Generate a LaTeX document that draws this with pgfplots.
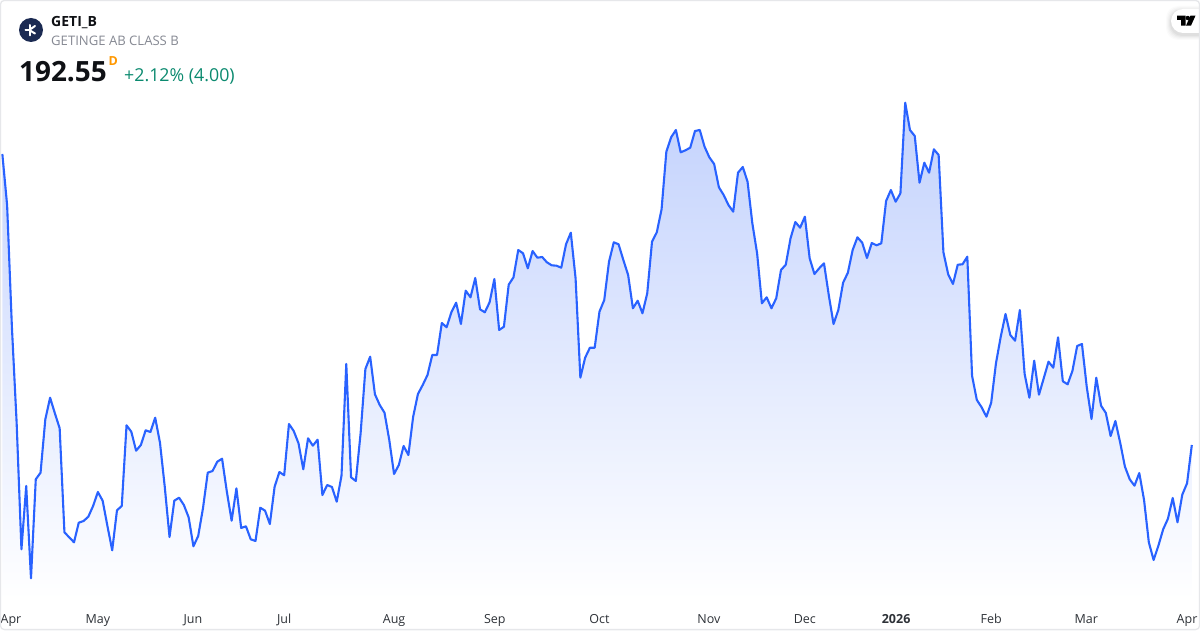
\documentclass[border=0pt]{standalone}
\usepackage{fontspec}
\setmainfont{Open Sans}
\usepackage{pgfplots}
\usepackage{pgfplotstable}
\pgfplotsset{compat=1.18}
\definecolor{tvblue}{HTML}{2962FF}
\definecolor{tvgreen}{HTML}{0B8A6F}
\definecolor{tvgray}{HTML}{868993}
\definecolor{tvtext}{HTML}{0F1115}
\definecolor{tvlabel}{HTML}{2E3238}
\definecolor{tvborder}{HTML}{E6E7EA}
\definecolor{tvnavy}{HTML}{1B2A52}
\definecolor{tvorange}{HTML}{FF9800}
\definecolor{areatop}{HTML}{C3D2FD}
% vertical position of the close, one value per trading day
\pgfplotstableread[row sep=\\]{pos\\
154.0\\205.0\\326.7\\423.3\\549.3\\486.0\\578.3\\479.3\\472.7\\419.3\\397.7\\413.3\\428.3\\532.3\\537.3\\542.3\\522.7\\521.0\\516.7\\506.0\\492.0\\500.7\\526.0\\550.3\\510.3\\506.0\\425.3\\431.7\\450.7\\445.0\\430.3\\432.0\\417.7\\442.7\\486.7\\537.0\\500.7\\497.7\\505.0\\517.3\\546.3\\536.0\\508.3\\472.7\\471.0\\461.7\\458.7\\491.7\\520.7\\488.3\\528.0\\526.3\\539.3\\541.0\\507.7\\510.7\\524.0\\486.7\\472.0\\475.3\\424.0\\431.0\\443.3\\
469.3\\438.3\\445.7\\439.7\\495.0\\485.0\\487.0\\501.7\\475.7\\364.0\\477.3\\481.0\\433.3\\369.0\\356.7\\394.3\\405.0\\412.7\\440.0\\474.0\\465.0\\446.0\\455.0\\416.7\\394.0\\385.0\\375.0\\355.0\\355.0\\323.0\\327.3\\312.3\\302.7\\324.0\\290.7\\297.3\\278.0\\309.3\\312.3\\302.3\\279.0\\330.0\\326.7\\284.7\\277.3\\250.0\\253.3\\268.3\\251.0\\257.7\\257.0\\262.3\\265.3\\265.7\\267.7\\244.3\\232.7\\278.3\\377.7\\357.7\\347.7\\347.7\\311.7\\
300.0\\261.7\\242.3\\244.3\\260.0\\275.0\\308.3\\300.7\\313.3\\293.3\\241.7\\232.3\\209.3\\151.7\\137.3\\130.0\\152.3\\150.3\\147.7\\131.0\\130.0\\146.7\\157.3\\164.0\\187.3\\195.0\\205.0\\211.7\\172.7\\167.0\\181.7\\223.3\\253.3\\303.3\\297.3\\308.3\\298.3\\270.0\\264.7\\238.3\\222.0\\227.7\\216.7\\258.3\\274.0\\268.3\\263.3\\295.0\\324.0\\310.0\\282.7\\272.7\\250.0\\237.3\\242.7\\258.0\\243.0\\245.3\\243.3\\201.0\\190.0\\201.7\\193.3\\
102.7\\130.0\\136.0\\182.7\\162.7\\172.7\\149.3\\155.0\\252.3\\274.3\\284.0\\264.7\\264.3\\256.7\\
376.0\\400.0\\407.3\\416.7\\402.7\\363.3\\336.7\\314.0\\335.0\\340.7\\310.0\\374.0\\397.7\\360.7\\394.7\\378.3\\361.7\\367.7\\337.3\\381.3\\384.3\\371.0\\346.0\\344.0\\386.7\\419.0\\377.7\\405.7\\413.0\\436.0\\421.0\\442.7\\466.7\\479.3\\485.7\\473.0\\500.0\\542.3\\560.0\\545.7\\529.3\\518.7\\498.0\\522.3\\494.7\\483.3\\445.0\\
}\closes
\begin{document}
\begin{tikzpicture}[x=1pt,y=1pt]
\clip (0,0) rectangle (1200,630);
\fill[white] (0,0) rectangle (1200,630);
\begin{axis}[
  at={(0,0)},anchor=south west,
  scale only axis,width=1200pt,height=630pt,
  xmin=-0.488,xmax=250.71,ymin=-30,ymax=600,
  axis line style={draw=none},
  major tick length=0pt,
  ytick=\empty,
  xtick={1.8,20,39.9,59,82,103.1,125,147.9,168,187.1,207,226.9,248},
  xticklabels={Apr,May,Jun,Jul,Aug,Sep,Oct,Nov,Dec,\textbf{2026},Feb,Mar,Apr},
  xticklabel style={font=\fontsize{12.5}{14}\selectfont,text=tvlabel,anchor=base,yshift=7pt},
  clip=true,
]
\addplot[draw=none,top color=areatop,bottom color=white,forget plot]
  table[x expr=\coordindex,y index=0,y expr=600-\thisrow{pos}]{\closes} \closedcycle;
\addplot[color=tvblue,line width=2.1pt,line join=round,mark=none]
  table[x expr=\coordindex,y index=0,y expr=600-\thisrow{pos}]{\closes};
\end{axis}
\begin{scope}[shift={(0,630)},x=1pt,y=-1pt]
% logo
\fill[tvnavy] (31,30) circle (12);
\begin{scope}[white,line width=2pt,line cap=round]
\draw (29.5,30)--(29.5,25);\draw (29.5,30)--(29.5,35.5);
\draw (29.5,30)--(25.5,30);\draw (30,29.5)--(35,26);\draw (30,30.5)--(35,33.5);
\end{scope}
\node[anchor=base west,inner sep=0,text=tvtext,font=\fontsize{14}{16}\selectfont\bfseries] at (51,27) {GETI\_B};
\node[anchor=base west,inner sep=0,text=tvgray,font=\fontsize{13.1}{15}\selectfont] at (51,46) {GETINGE AB CLASS B};
\node[anchor=base west,inner sep=0,text=tvtext,font=\fontsize{27.9}{30}\selectfont\bfseries] at (19,82) {192.55};
\node[anchor=base west,inner sep=0,text=tvorange,font=\fontsize{12.5}{14}\selectfont\bfseries] at (108.5,66) {D};
\node[anchor=base west,inner sep=0,text=tvgreen,font=\fontsize{17.8}{20}\selectfont] at (124,82) {+2.12\% (4.00)};
% badge
\foreach \o/\a in {5/0.015,4/0.02,3/0.025,2/0.03,1/0.035}{
  \fill[black,opacity=\a,rounded corners=12pt] (1171-\o,9-\o+2) rectangle (1215,33+\o+2);}
\fill[white,rounded corners=12pt] (1171,9) rectangle (1215,33);
\fill[black] (1177,15.6) -- (1185.5,15.6) -- (1185.5,25.6) -- (1181,25.6) -- (1181,20) -- (1177,20) -- cycle;
\fill[black] (1187.8,18) circle (2.2);
\fill[black] (1190.5,15.6) -- (1195.5,15.6) -- (1191,25.6) -- (1186,25.6) -- cycle;
\draw[tvborder,line width=1.3pt,rounded corners=4pt] (0.4,0.4) rectangle (1199.6,629.6);
\end{scope}
\end{tikzpicture}
\end{document}
